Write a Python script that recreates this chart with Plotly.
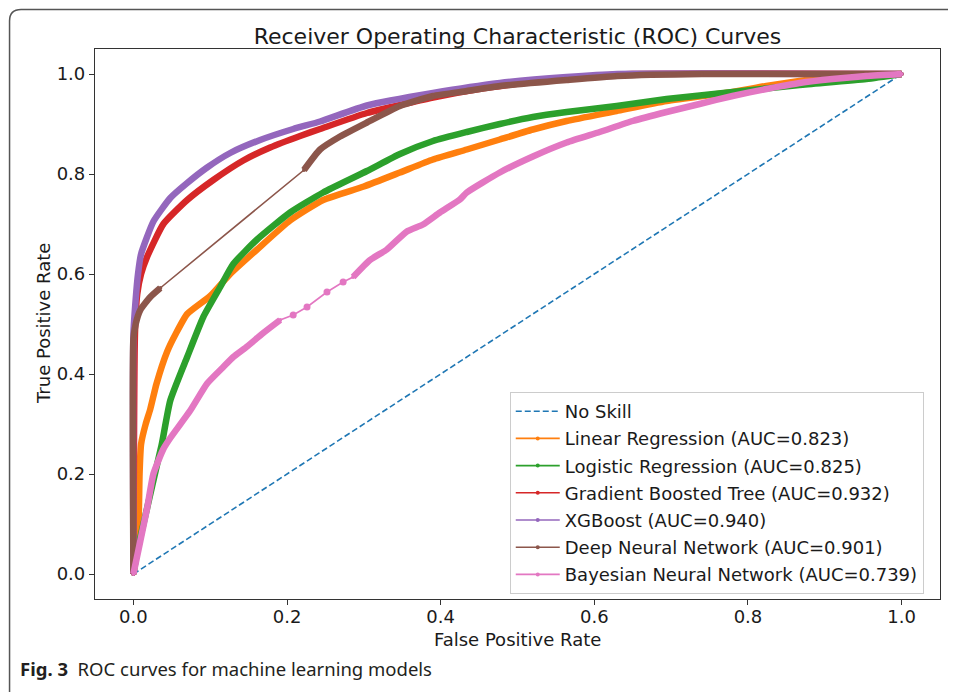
import plotly.graph_objects as go

# ---------------- data ----------------
title_text = "Receiver Operating Characteristic (ROC) Curves"
x_title = "False Positive Rate"
y_title = "True Positive Rate"
caption_bold = "Fig. 3"
caption_text = "ROC curves for machine learning models"
tick_vals = [0.0, 0.2, 0.4, 0.6, 0.8, 1.0]
tick_text = ["0.0", "0.2", "0.4", "0.6", "0.8", "1.0"]

model_names = ["Linear Regression", "Logistic Regression", "Gradient Boosted Tree",
               "XGBoost", "Deep Neural Network", "Bayesian Neural Network"]
model_auc = [0.823, 0.825, 0.932, 0.940, 0.901, 0.739]

noskill_fpr = [0.0, 1.0]
noskill_tpr = [0.0, 1.0]

lr_fpr = [0.0, 0.004, 0.007, 0.008, 0.010, 0.016, 0.022, 0.030, 0.044, 0.055, 0.070,
          0.100, 0.126, 0.161, 0.204, 0.247, 0.300, 0.347, 0.390, 0.434, 0.477,
          0.520, 0.564, 0.629, 0.694, 0.780, 0.824, 0.867, 0.910, 1.0]
lr_tpr = [0.0, 0.05, 0.12, 0.20, 0.26, 0.30, 0.33, 0.38, 0.445, 0.48, 0.52,
          0.556, 0.60, 0.649, 0.707, 0.748, 0.775, 0.803, 0.829, 0.849, 0.869,
          0.889, 0.906, 0.926, 0.946, 0.964, 0.976, 0.986, 0.994, 1.0]

logr_fpr = [0.0, 0.005, 0.018, 0.031, 0.037, 0.048, 0.070, 0.091, 0.113, 0.130,
            0.161, 0.204, 0.247, 0.304, 0.347, 0.390, 0.434, 0.477, 0.520, 0.564,
            0.629, 0.694, 0.780, 0.867, 0.954, 1.0]
logr_tpr = [0.0, 0.046, 0.133, 0.22, 0.26, 0.347, 0.434, 0.514, 0.574, 0.62,
            0.669, 0.723, 0.763, 0.806, 0.840, 0.866, 0.884, 0.900, 0.914, 0.924,
            0.936, 0.950, 0.964, 0.978, 0.990, 1.0]

gbt_fpr = [0.0, 0.002, 0.005, 0.010, 0.018, 0.039, 0.070, 0.104, 0.143, 0.178,
           0.217, 0.243, 0.304, 0.390, 0.450, 0.550, 0.650, 1.0]
gbt_tpr = [0.0, 0.48, 0.56, 0.60, 0.635, 0.700, 0.748, 0.788, 0.827, 0.853,
           0.876, 0.890, 0.922, 0.953, 0.970, 0.990, 1.0, 1.0]

xgb_fpr = [0.0, 0.0, 0.003, 0.006, 0.010, 0.026, 0.048, 0.070, 0.096, 0.126,
           0.165, 0.208, 0.243, 0.304, 0.390, 0.477, 0.564, 0.630, 1.0]
xgb_tpr = [0.0, 0.48, 0.55, 0.60, 0.64, 0.705, 0.752, 0.782, 0.813, 0.842,
           0.868, 0.890, 0.905, 0.937, 0.962, 0.982, 0.994, 1.0, 1.0]

dnn_fpr = [0.0, 0.0, 0.003, 0.009, 0.022, 0.035, 0.222, 0.243, 0.269, 0.304,
           0.347, 0.390, 0.434, 0.477, 0.564, 0.630, 0.740, 1.0]
dnn_tpr = [0.0, 0.47, 0.50, 0.528, 0.554, 0.572, 0.808, 0.849, 0.875, 0.903,
           0.936, 0.956, 0.966, 0.976, 0.988, 0.996, 1.0, 1.0]

bnn_fpr = [0.0, 0.009, 0.018, 0.026, 0.039, 0.048, 0.074, 0.096, 0.117, 0.130,
           0.148, 0.169, 0.191, 0.208, 0.226, 0.252, 0.273, 0.286, 0.308, 0.330,
           0.356, 0.377, 0.399, 0.425, 0.434, 0.477, 0.520, 0.564, 0.607, 0.650,
           0.694, 0.737, 0.780, 0.824, 0.867, 0.910, 0.954, 1.0]
bnn_tpr = [0.0, 0.066, 0.133, 0.20, 0.25, 0.272, 0.327, 0.381, 0.414, 0.434,
           0.455, 0.482, 0.508, 0.518, 0.534, 0.564, 0.584, 0.594, 0.628, 0.649,
           0.685, 0.699, 0.723, 0.749, 0.763, 0.803, 0.835, 0.863, 0.884, 0.906,
           0.924, 0.940, 0.956, 0.970, 0.982, 0.990, 0.996, 1.0]

# ---------------- styling ----------------
W, H = 956, 692
OFF = 8  # page body margin of the browser
# plot area in reference pixels: left 95, right 940.5, top 49, bottom 599
PL, PR, PT, PB = 95, 940.5, 49, 599
ML = PL - OFF
MT = PT - OFF
MR = W - (PR - OFF)
MB = H - (PB - OFF)
colors = ["#ff7f0e", "#2ca02c", "#d62728", "#9467bd", "#8c564b", "#e377c2"]
series = [(lr_fpr, lr_tpr), (logr_fpr, logr_tpr), (gbt_fpr, gbt_tpr),
          (xgb_fpr, xgb_tpr), (dnn_fpr, dnn_tpr), (bnn_fpr, bnn_tpr)]
# where the dense (thick) drawing is interrupted: (last dense idx, next dense idx)
gaps = {4: [(5, 6)], 5: [(12, 17)]}
sparse_marks = {5: [13, 14, 15, 16]}
THICK = 6.5
FONT = "DejaVu Sans"
TXT = "#1a1a1a"
FS = 18


def thick_segments(xs, ys, gap_list):
    ox, oy = [], []
    skip = set()
    for a, b in gap_list:
        for k in range(a + 1, b):
            skip.add(k)
    prev_break = {a for a, b in gap_list}
    for i, (xv, yv) in enumerate(zip(xs, ys)):
        if i in skip:
            continue
        ox.append(xv)
        oy.append(yv)
        if i in prev_break:
            ox.append(None)
            oy.append(None)
    return ox, oy


fig = go.Figure()
fig.add_trace(go.Scatter(x=noskill_fpr, y=noskill_tpr, mode="lines", name="No Skill",
                         legendgroup="ns",
                         line=dict(color="#1f77b4", width=1.6, dash="6px,3px")))

for i, (name, auc) in enumerate(zip(model_names, model_auc)):
    xs, ys = series[i]
    tx, ty = thick_segments(xs, ys, gaps.get(i, []))
    grp = "g%d" % i
    fig.add_trace(go.Scatter(x=tx, y=ty, mode="lines", showlegend=False, legendgroup=grp,
                             line=dict(color=colors[i], width=THICK, shape="spline",
                                       smoothing=0.5),
                             connectgaps=False, hoverinfo="skip"))
    if i in sparse_marks:
        idx = sparse_marks[i]
        fig.add_trace(go.Scatter(x=[xs[k] for k in idx], y=[ys[k] for k in idx],
                                 mode="markers", showlegend=False, legendgroup=grp,
                                 marker=dict(color=colors[i], size=7), hoverinfo="skip"))
    fig.add_trace(go.Scatter(x=xs, y=ys, mode="lines+markers", legendgroup=grp,
                             name="%s (AUC=%.3f)" % (name, auc),
                             line=dict(color=colors[i], width=1.6),
                             marker=dict(color=colors[i], size=4)))

pw = PR - PL
ph = PB - PT


def px(xr):
    return (xr - PL) / pw


def py(yr):
    return (PB - yr) / ph


border = "M %f,%f L %f,%f Q %f,%f %f,%f L %f,%f" % (
    px(9.5), py(720), px(9.5), py(21), px(9.5), py(9.5), px(21), py(9.5), px(980), py(9.5))

axis_common = dict(range=[-0.05, 1.05], showline=True, mirror=True, linecolor="#333333",
                   linewidth=1.2, ticks="outside", ticklen=5, tickwidth=1.2,
                   tickcolor="#333333", showgrid=False, zeroline=False,
                   tickvals=tick_vals, ticktext=tick_text,
                   tickfont=dict(family=FONT, size=FS, color=TXT))

fig.update_layout(
    width=W, height=H,
    margin=dict(l=ML, r=MR, t=MT, b=MB, pad=0),
    paper_bgcolor="white", plot_bgcolor="white",
    title=dict(text=title_text, x=0.5, xref="paper", y=1 - (36 - OFF) / H,
               yref="container", xanchor="center", yanchor="middle",
               font=dict(family=FONT, size=22, color=TXT)),
    xaxis=dict(axis_common, ticklabelstandoff=-4),
    yaxis=axis_common,
    legend=dict(x=px(510), y=py(392), xanchor="left", yanchor="top",
                bgcolor="rgba(255,255,255,0.85)", bordercolor="#cccccc", borderwidth=1,
                font=dict(family=FONT, size=FS, color=TXT), tracegroupgap=0.8,
                traceorder="grouped", itemwidth=44),
    shapes=[dict(type="path", path=border, xref="paper", yref="paper",
                 line=dict(color="#555555", width=1.5), layer="above")],
    annotations=[
        dict(text=x_title, x=px(518), y=py(639), xref="paper", yref="paper",
             xanchor="center", yanchor="middle", showarrow=False,
             font=dict(family=FONT, size=FS, color=TXT)),
        dict(text=y_title, x=px(43), y=py(324), xref="paper", yref="paper",
             xanchor="center", yanchor="middle", showarrow=False, textangle=-90,
             font=dict(family=FONT, size=FS, color=TXT)),
        dict(text="<b>%s</b>  %s" % (caption_bold, caption_text),
             x=px(18), y=py(668), xref="paper", yref="paper",
             xanchor="left", yanchor="middle", showarrow=False,
             font=dict(family="Noto Sans", size=18.5, color="#231f20")),
    ],
)

fig.write_html("out.html")
